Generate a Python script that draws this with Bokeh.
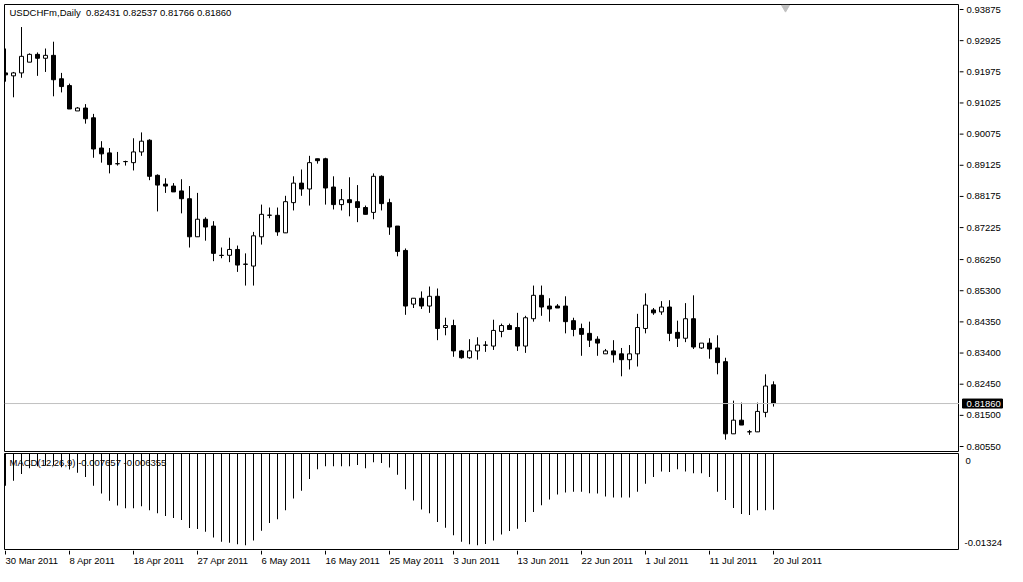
from bokeh.plotting import figure
from bokeh.models import Span, Label, Range1d
from bokeh.layouts import column, row
from bokeh.embed import file_html
from bokeh.resources import INLINE
from bokeh.core.properties import value

# ---------------- data ----------------
symbol = "USDCHFm,Daily"

opens = [0.91942, 0.91852, 0.91942, 0.92269, 0.92507, 0.92388, 0.92477, 0.91763, 0.91555, 0.90782,
         0.90871, 0.90573, 0.89651, 0.89503, 0.89175, 0.89235, 0.89205, 0.89532, 0.89889, 0.88819,
         0.88551, 0.88491, 0.88343, 0.88105, 0.86945, 0.87480, 0.87272, 0.86380, 0.86380, 0.86558,
         0.86112, 0.86052, 0.86945, 0.87599, 0.87599, 0.87064, 0.87986, 0.88581, 0.88402, 0.89324,
         0.89324, 0.88462, 0.87926, 0.88075, 0.88015, 0.87837, 0.87688, 0.88789, 0.87986, 0.87272,
         0.86528, 0.84892, 0.85071, 0.84833, 0.85130, 0.84178, 0.84238, 0.83465, 0.83256, 0.83465,
         0.83643, 0.83613, 0.84059, 0.84238, 0.84178, 0.83613, 0.84446, 0.85160, 0.84833, 0.84833,
         0.84833, 0.84387, 0.84149, 0.84000, 0.83822, 0.83375, 0.83465, 0.83375, 0.83197, 0.83375,
         0.84149, 0.84714, 0.84654, 0.84803, 0.84030, 0.83851, 0.84446, 0.83554, 0.83703, 0.83554,
         0.83137, 0.80936, 0.81353, 0.80996, 0.80996, 0.81591, 0.82431]

highs = [0.92685, 0.91971, 0.93340, 0.92537, 0.92566, 0.92685, 0.92893, 0.91942, 0.91615, 0.90901,
         0.90990, 0.90692, 0.89860, 0.89651, 0.89532, 0.89265, 0.89949, 0.90127, 0.89919, 0.88848,
         0.88729, 0.88581, 0.88700, 0.88491, 0.88283, 0.87540, 0.87421, 0.86617, 0.86915, 0.86677,
         0.86439, 0.87093, 0.87926, 0.87837, 0.87837, 0.88194, 0.88789, 0.88997, 0.89413, 0.89324,
         0.89354, 0.88789, 0.88402, 0.88759, 0.88521, 0.87897, 0.88878, 0.88819, 0.88105, 0.87272,
         0.86588, 0.85071, 0.85279, 0.85428, 0.85368, 0.84476, 0.84416, 0.83494, 0.83822, 0.83881,
         0.83762, 0.84416, 0.84297, 0.84297, 0.84625, 0.84535, 0.85457, 0.85457, 0.85071, 0.84892,
         0.85130, 0.84476, 0.84297, 0.84357, 0.83911, 0.83524, 0.83792, 0.83554, 0.83643, 0.84595,
         0.85220, 0.84773, 0.84982, 0.85011, 0.84387, 0.84922, 0.85160, 0.83703, 0.83851, 0.83941,
         0.83256, 0.81948, 0.81888, 0.81055, 0.81888, 0.82751, 0.82537]

lows = [0.91674, 0.91198, 0.91793, 0.92269, 0.91852, 0.91971, 0.91228, 0.91347, 0.90841, 0.90782,
        0.90395, 0.89354, 0.89205, 0.88878, 0.89116, 0.89116, 0.88967, 0.89413, 0.88670, 0.87718,
        0.88283, 0.88313, 0.87659, 0.86617, 0.86945, 0.86826, 0.86201, 0.86290, 0.86171, 0.85874,
        0.85457, 0.85457, 0.86707, 0.87510, 0.86974, 0.87064, 0.87748, 0.88194, 0.87897, 0.89175,
        0.87926, 0.87778, 0.87748, 0.87569, 0.87391, 0.87629, 0.87480, 0.87748, 0.87004, 0.86350,
        0.84565, 0.84773, 0.84744, 0.84625, 0.83792, 0.83941, 0.83286, 0.83227, 0.83227, 0.83197,
        0.83435, 0.83494, 0.83881, 0.84119, 0.83465, 0.83405, 0.84357, 0.84535, 0.84357, 0.84773,
        0.84000, 0.83911, 0.83316, 0.83584, 0.83316, 0.83375, 0.83108, 0.82691, 0.82899, 0.82989,
        0.84000, 0.84565, 0.84565, 0.83762, 0.83584, 0.83732, 0.83524, 0.83524, 0.83227, 0.82751,
        0.80758, 0.80936, 0.81204, 0.80907, 0.80996, 0.81442, 0.81766]

closes = [0.91882, 0.91942, 0.92447, 0.92507, 0.92388, 0.92477, 0.91733, 0.91525, 0.90841, 0.90871,
          0.90544, 0.89622, 0.89473, 0.89146, 0.89170, 0.89240, 0.89532, 0.89860, 0.88789, 0.88521,
          0.88491, 0.88313, 0.88105, 0.86945, 0.87480, 0.87242, 0.86439, 0.86375, 0.86558, 0.86082,
          0.86105, 0.86974, 0.87629, 0.87605, 0.87093, 0.88015, 0.88581, 0.88402, 0.89205, 0.89265,
          0.88432, 0.87926, 0.88075, 0.87986, 0.87837, 0.87629, 0.88789, 0.87956, 0.87242, 0.86498,
          0.84833, 0.85071, 0.84833, 0.85130, 0.84149, 0.84238, 0.83465, 0.83256, 0.83465, 0.83643,
          0.83638, 0.84089, 0.84238, 0.84119, 0.83613, 0.84476, 0.85160, 0.84803, 0.84744, 0.84773,
          0.84357, 0.84119, 0.83970, 0.83792, 0.83703, 0.83465, 0.83346, 0.83197, 0.83375, 0.84178,
          0.84863, 0.84625, 0.84803, 0.84000, 0.83851, 0.84446, 0.83584, 0.83703, 0.83524, 0.83108,
          0.80936, 0.81353, 0.81204, 0.81000, 0.81620, 0.82394, 0.81860]

macd = [-0.00437, -0.00370, -0.00277, -0.00197, -0.00170, -0.00160, -0.00160, -0.00183, -0.00214, -0.00258,
        -0.00317, -0.00437, -0.00544, -0.00642, -0.00709, -0.00745, -0.00745, -0.00718, -0.00772, -0.00812,
        -0.00852, -0.00879, -0.00905, -0.01016, -0.01030, -0.01066, -0.01146, -0.01204, -0.01217, -0.01240,
        -0.01253, -0.01186, -0.01053, -0.00946, -0.00896, -0.00772, -0.00611, -0.00504, -0.00344, -0.00210,
        -0.00170, -0.00170, -0.00170, -0.00170, -0.00151, -0.00197, -0.00116, -0.00124, -0.00187, -0.00285,
        -0.00485, -0.00638, -0.00762, -0.00812, -0.00932, -0.01012, -0.01114, -0.01204, -0.01240, -0.01253,
        -0.01234, -0.01186, -0.01106, -0.01057, -0.01026, -0.00932, -0.00798, -0.00705, -0.00625, -0.00558,
        -0.00531, -0.00518, -0.00518, -0.00539, -0.00544, -0.00584, -0.00598, -0.00598, -0.00598, -0.00518,
        -0.00411, -0.00317, -0.00241, -0.00250, -0.00210, -0.00241, -0.00267, -0.00267, -0.00317, -0.00518,
        -0.00633, -0.00740, -0.00825, -0.00839, -0.00772, -0.00772, -0.007657]
macd_signal_last = -0.006355
macd_min_label = -0.01324

price_ticks = [0.93875, 0.92925, 0.91975, 0.91025, 0.90075, 0.89125, 0.88175, 0.87225,
               0.86250, 0.85300, 0.84350, 0.83400, 0.82450, 0.81500, 0.80550]

date_tick_bars = [0, 8, 16, 24, 32, 40, 48, 56, 64, 72, 80, 88, 96]
date_labels = ["30 Mar 2011", "8 Apr 2011", "18 Apr 2011", "27 Apr 2011", "6 May 2011",
               "16 May 2011", "25 May 2011", "3 Jun 2011", "13 Jun 2011", "22 Jun 2011",
               "1 Jul 2011", "11 Jul 2011", "20 Jul 2011"]

# ---------------- layout constants ----------------
FONT = "Liberation Sans"
FSIZE = "9.5px"
PX = 8.0                 # pixels per bar
X0 = -0.125
FW = 955                 # plot frame width
SW = 46                  # right scale strip width
LB = 4                   # left border
X1 = X0 + FW / PX
PH = 447                 # price frame height
PT, PB = 4, 2            # borders above / below price frame
MH = 97                  # macd frame height
DH = 16                  # date strip height

n = len(closes)
idx = list(range(n))

ppx = (PH - 5 - 5) / (price_ticks[0] - price_ticks[-1])
Y1 = price_ticks[0] + 5 / ppx
Y0 = price_ticks[-1] - 5 / ppx


def base(fig, outline=True):
    fig.xgrid.visible = False
    fig.ygrid.visible = False
    fig.outline_line_color = "black" if outline else None
    fig.background_fill_color = "white"
    fig.border_fill_color = "white"
    return fig


def mkfig(fw, fh, xr, yr, **kw):
    return figure(frame_width=fw, frame_height=fh, x_range=xr, y_range=yr,
                  x_axis_location=None, y_axis_location=None, toolbar_location=None,
                  output_backend="svg", tools="", **kw)


# ---------------- price panel ----------------
xr = Range1d(X0, X1)
p = base(mkfig(FW, PH, xr, Range1d(Y0, Y1), min_border=0, min_border_left=LB,
               min_border_top=PT, min_border_bottom=PB))

p.add_layout(Span(location=closes[-1], dimension="width", line_color="#c0c0c0", line_width=1))
p.segment(x0=idx, y0=highs, x1=idx, y1=lows, line_color="black", line_width=1)

bx, bt, bb = [], [], []
wx, wt, wb = [], [], []
for i in idx:
    o, c = opens[i], closes[i]
    if c >= o:
        wx.append(i); wt.append(c); wb.append(o)
    else:
        bx.append(i); bt.append(o); bb.append(c)
p.vbar(x=wx, top=wt, bottom=wb, width=0.5, fill_color="white", line_color="black", line_width=1)
p.vbar(x=bx, top=bt, bottom=bb, width=0.5, fill_color="black", line_color="black", line_width=1)

p.scatter(x=[n + 0.5], y=[Y1 - 3 / ppx], marker="inverted_triangle", size=8,
          fill_color="#c0c0c0", line_color="#c0c0c0")

header = f"{symbol}\u00a0 {opens[-1]:.5f} {highs[-1]:.5f} {lows[-1]:.5f} {closes[-1]:.5f}"
p.add_layout(Label(x=X0 + 5 / PX, y=Y1 - 8 / ppx, text=header, text_font=FONT,
                   text_font_size=FSIZE, text_color="black", text_baseline="middle"))

# price scale strip
ps = base(mkfig(SW, PH, Range1d(0, SW), p.y_range, min_border=0,
                min_border_top=PT, min_border_bottom=PB), outline=False)
k = len(price_ticks)
ps.segment(x0=[0] * k, y0=price_ticks, x1=[4] * k, y1=price_ticks, line_color="black", line_width=1)
ps.text(x=[7] * k, y=price_ticks, text=[f"{t:.5f}" for t in price_ticks],
        text_font=value(FONT), text_font_size=value(FSIZE), text_color="black",
        text_align="left", text_baseline="middle")
ps.quad(left=[3], right=[SW - 3], top=[closes[-1] + 4.5 / ppx], bottom=[closes[-1] - 4.5 / ppx],
        fill_color="black", line_color="black")
ps.text(x=[7], y=[closes[-1]], text=[f"{closes[-1]:.5f}"],
        text_font=value(FONT), text_font_size=value(FSIZE), text_color="white",
        text_align="left", text_baseline="middle")

# ---------------- MACD panel ----------------
M1 = 0.00005
mpx = MH / (M1 - macd_min_label)
m = base(mkfig(FW, MH, xr, Range1d(macd_min_label, M1), min_border=0, min_border_left=LB))
m.vbar(x=idx, top=[0] * n, bottom=macd, width=1.0 / PX, fill_color="black", line_color=None)
m.add_layout(Label(x=X0 + 5 / PX, y=M1 - 9 / mpx,
                   text=f"MACD(12,26,9) {macd[-1]:.6f} {macd_signal_last:.6f}",
                   text_font=FONT, text_font_size=FSIZE, text_color="black", text_baseline="middle"))

ms = base(mkfig(SW, MH, Range1d(0, SW), m.y_range, min_border=0), outline=False)
ms.segment(x0=[0], y0=[macd_min_label], x1=[4], y1=[macd_min_label],
           line_color="black", line_width=1)
ms.text(x=[6, 5], y=[M1 - 7 / mpx, macd_min_label + 8 / mpx], text=["0", f"{macd_min_label:.5f}"],
        text_font=value(FONT), text_font_size=value(FSIZE), text_color="black",
        text_align="left", text_baseline="middle")

# ---------------- date strip ----------------
d = base(mkfig(FW, DH, xr, Range1d(0, DH), min_border=0, min_border_left=LB), outline=False)
nd = len(date_tick_bars)
d.segment(x0=date_tick_bars, y0=[DH] * nd, x1=date_tick_bars, y1=[DH - 4] * nd,
          line_color="black", line_width=1)
d.text(x=date_tick_bars, y=[DH - 10] * nd, text=date_labels,
       text_font=value(FONT), text_font_size=value(FSIZE), text_color="black",
       text_align="left", text_baseline="middle")

layout = column(row(p, ps, spacing=0), row(m, ms, spacing=0), d, spacing=0)
open("out.html", "w").write(file_html(layout, INLINE))
